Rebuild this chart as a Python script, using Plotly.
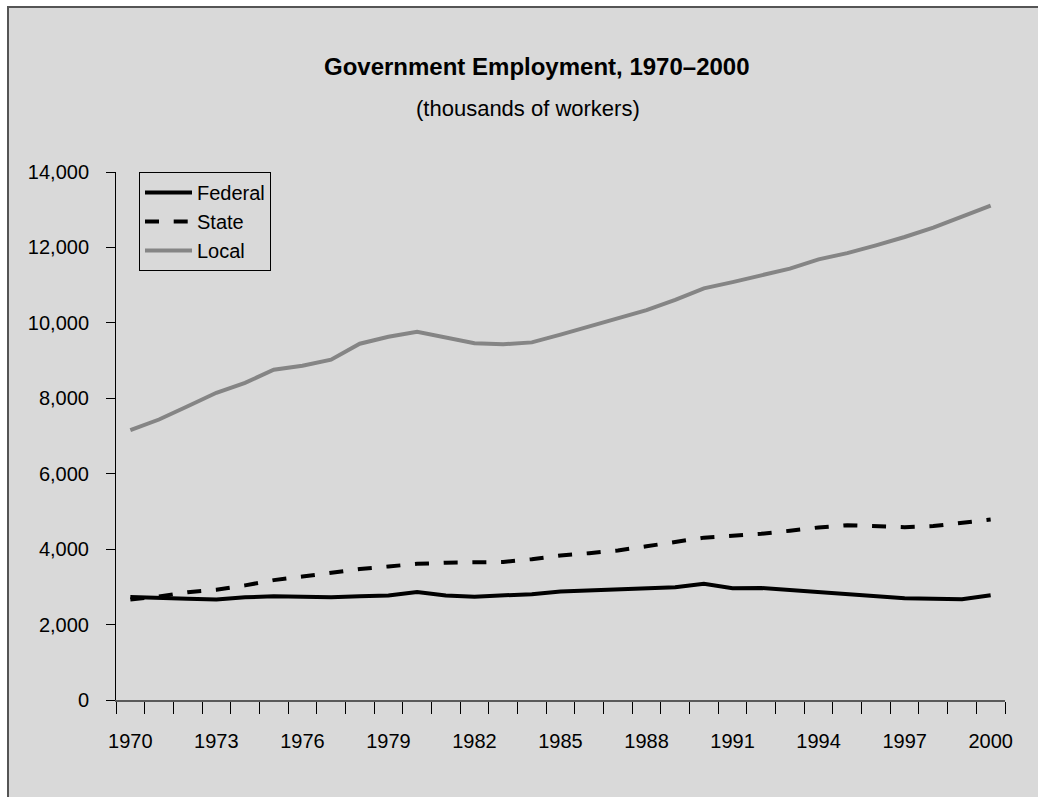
import plotly.graph_objects as go

years = list(range(1970, 2001))
federal = [2731, 2696, 2684, 2663, 2724, 2748, 2733, 2727, 2753, 2773, 2866,
           2772, 2739, 2774, 2807, 2875, 2899, 2943, 2971, 2988, 3085,
           2966, 2969, 2915, 2870, 2822, 2757, 2699, 2686, 2669, 2777]
state = [2664, 2747, 2859, 2923, 3039, 3179, 3273, 3377, 3474, 3541, 3610,
         3640, 3640, 3662, 3734, 3832, 3893, 3967, 4076, 4182, 4305,
         4355, 4408, 4488, 4576, 4635, 4606, 4582, 4612, 4709, 4786]
local = [7158, 7437, 7790, 8146, 8407, 8758, 8865, 9023, 9446, 9633, 9765,
         9619, 9458, 9434, 9482, 9687, 9901, 10100, 10339, 10609, 10914,
         11081, 11267, 11438, 11682, 11849, 12056, 12276, 12525, 12823, 13109]
x_labels = [1970, 1973, 1976, 1979, 1982, 1985, 1988, 1991, 1994, 1997, 2000]
y_ticks = [0, 2000, 4000, 6000, 8000, 10000, 12000, 14000]

FONT = "Liberation Sans, Arial, Helvetica, sans-serif"
W, H = 1038, 797
# plot area in page pixels: x 116..1005, y 172..700
L, T = 116, 172
R = W - 1005
B = H - 700
pw, ph = W - L - R, H - T - B

def px(x):
    return (x - L) / pw

def py(y):
    return (H - B - y) / ph

fig = go.Figure()
fig.add_trace(go.Scatter(x=years, y=federal, mode="lines", name="Federal",
                         line=dict(color="black", width=4)))
fig.add_trace(go.Scatter(x=years, y=state, mode="lines", name="State",
                         line=dict(color="black", width=4, dash="14px,14.7px")))
fig.add_trace(go.Scatter(x=years, y=local, mode="lines", name="Local",
                         line=dict(color="#858585", width=4)))

fig.update_layout(
    width=W, height=H,
    margin=dict(l=L, r=R, t=T, b=B, pad=0),
    paper_bgcolor="white",
    plot_bgcolor="rgba(0,0,0,0)",
    font=dict(family=FONT, size=20, color="black"),
    showlegend=True,
    legend=dict(x=px(139), y=py(172), xanchor="left", yanchor="top",
                bgcolor="rgba(0,0,0,0)", bordercolor="black", borderwidth=1,
                font=dict(family=FONT, size=20), tracegroupgap=0,
                itemwidth=47),
    shapes=[dict(type="rect", xref="paper", yref="paper",
                 x0=px(8), x1=px(W + 40), y0=py(H + 40), y1=py(7),
                 fillcolor="#d9d9d9", line=dict(color="#555555", width=2),
                 layer="below")],
    annotations=[
        dict(text="<b>Government Employment, 1970\u20132000</b>", xref="paper", yref="paper",
             x=px(537), y=py(67), xanchor="center", yanchor="middle", showarrow=False,
             font=dict(family=FONT, size=24)),
        dict(text="(thousands of workers)", xref="paper", yref="paper",
             x=px(528), y=py(109), xanchor="center", yanchor="middle", showarrow=False,
             font=dict(family=FONT, size=22)),
    ],
)

fig.update_xaxes(range=[1969.5, 2000.5], tickvals=x_labels, ticktext=[str(v) for v in x_labels],
                 ticks="", showgrid=False, zeroline=False, showline=True,
                 linecolor="#5a5a5a", linewidth=2, ticklabelstandoff=22,
                 minor=dict(tick0=1969.5, dtick=1, ticks="outside", ticklen=12,
                            tickcolor="black", tickwidth=1, showgrid=False))
fig.update_yaxes(range=[0, 14000], tickvals=y_ticks, tickformat=",d",
                 ticks="outside", ticklen=9, tickcolor="black", tickwidth=1,
                 showgrid=False, zeroline=False, showline=True,
                 linecolor="black", linewidth=1, ticklabelstandoff=13)

fig.write_html("out.html",
               config={"displayModeBar": False},
               post_script="document.body.style.margin='0';"
                           "document.documentElement.style.overflow='hidden';")
